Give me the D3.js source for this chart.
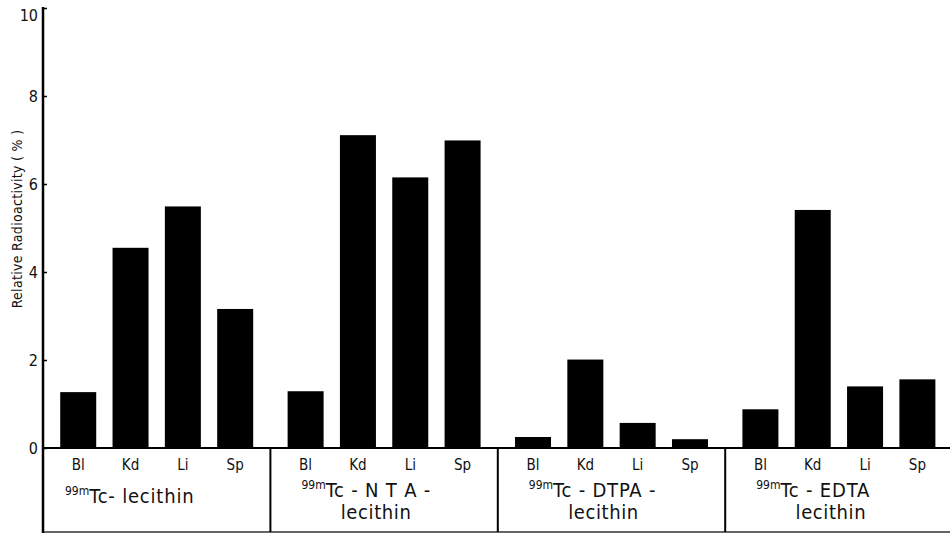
<!DOCTYPE html>
<html>
<head>
<meta charset="utf-8">
<script src="https://cdn.jsdelivr.net/npm/d3@7"></script>
<style>
  html, body { margin: 0; padding: 0; background: #fff; }
  svg { display: block; }
  text { font-family: "DejaVu Sans Condensed", "Liberation Sans Narrow", sans-serif; fill: #111; }
</style>
</head>
<body>
<svg id="chart" width="950" height="535"></svg>
<script>
// ---- data ----
const groups = ["lecithin", "NTA-lecithin", "DTPA-lecithin", "EDTA-lecithin"];
const organs = ["Bl", "Kd", "Li", "Sp"];
const valuesLecithin = [1.27, 4.55, 5.49, 3.16];
const valuesNTA      = [1.29, 7.11, 6.15, 6.99];
const valuesDTPA     = [0.25, 2.01, 0.57, 0.20];
const valuesEDTA     = [0.88, 5.41, 1.40, 1.56];
const seriesValues = [valuesLecithin, valuesNTA, valuesDTPA, valuesEDTA];
const groupLabelLines = [
  ["Tc- lecithin"],
  ["Tc - N T A -", "lecithin"],
  ["Tc - DTPA -", "lecithin"],
  ["Tc - EDTA", "lecithin"]
];
const isotope = "99m";
const yTicks = [0, 2, 4, 6, 8, 10];
const yTitle = "Relative  Radioactivity ( % )";

// ---- layout ----
const svg = d3.select("#chart");
const axisX = 43, baseY = 448, topY = 8, boxBottom = 532;

const y = d3.scaleLinear().domain([0, 10]).range([baseY, topY]);
const xGroup = d3.scaleBand().domain(groups).range([axisX, axisX + 4 * 227.4]).paddingInner(0).paddingOuter(0);
const xOrgan = d3.scaleBand().domain(organs).range([0, xGroup.bandwidth()]).paddingInner(0.312).paddingOuter(0.329);

// bars
const barData = [];
groups.forEach((g, gi) => organs.forEach((o, oi) => barData.push({ g, o, v: seriesValues[gi][oi] })));
svg.append("g").selectAll("rect").data(barData).join("rect")
  .attr("x", d => xGroup(d.g) + xOrgan(d.o))
  .attr("width", xOrgan.bandwidth())
  .attr("y", d => y(d.v))
  .attr("height", d => baseY - y(d.v))
  .attr("fill", "#000");

// baseline and box
svg.append("line").attr("x1", axisX).attr("x2", 950).attr("y1", baseY).attr("y2", baseY)
  .attr("stroke", "#000").attr("stroke-width", 2);
svg.append("line").attr("x1", axisX).attr("x2", 950).attr("y1", boxBottom).attr("y2", boxBottom)
  .attr("stroke", "#333").attr("stroke-width", 1.5);
svg.append("g").selectAll("line").data(groups.slice(1)).join("line")
  .attr("x1", d => xGroup(d)).attr("x2", d => xGroup(d))
  .attr("y1", baseY).attr("y2", boxBottom)
  .attr("stroke", "#000").attr("stroke-width", 2);

// y axis
const yAxis = d3.axisLeft(y).tickValues(yTicks).tickSizeInner(-4).tickSizeOuter(0).tickPadding(5)
  .tickFormat(d3.format("d"));
const gy = svg.append("g").attr("transform", `translate(${axisX},0)`).call(yAxis);
gy.select(".domain").remove();
gy.selectAll(".tick line").attr("stroke", "#000").attr("stroke-width", 1.5);
gy.selectAll(".tick text").attr("font-size", 16).attr("fill", "#111")
  .attr("font-family", "'DejaVu Sans Condensed', sans-serif");
gy.selectAll(".tick").filter(d => d === 10).select("text").attr("dy", "0.8em");
svg.append("line").attr("x1", axisX).attr("x2", axisX).attr("y1", 7).attr("y2", boxBottom + 1)
  .attr("stroke", "#000").attr("stroke-width", 2.5);

// y title
svg.append("text")
  .attr("transform", `translate(22,${(133 + 305) / 2}) rotate(-90)`)
  .attr("text-anchor", "middle")
  .attr("font-size", 14)
  .attr("letter-spacing", 0.3)
  .text(yTitle);

// organ labels
svg.append("g").selectAll("text").data(barData).join("text")
  .attr("x", d => xGroup(d.g) + xOrgan(d.o) + xOrgan.bandwidth() / 2)
  .attr("y", 470)
  .attr("text-anchor", "middle")
  .attr("font-size", 15)
  .text(d => d.o);

// group labels
groups.forEach((g, gi) => {
  const lines = groupLabelLines[gi];
  const gx = xGroup(g);
  const single = lines.length === 1;
  const line1X = gx + (single ? 22 : 31);
  const line1Y = single ? 503 : 497;
  const t = svg.append("text").attr("x", line1X).attr("y", line1Y).attr("font-size", 20)
    .attr("letter-spacing", 0.8);
  t.append("tspan").attr("font-size", 12).attr("letter-spacing", 0).attr("dy", -8).text(isotope);
  t.append("tspan").attr("dy", 8).text(lines[0]);
  if (lines.length > 1) {
    svg.append("text")
      .attr("x", gx + xGroup.bandwidth() / 2 - 8)
      .attr("y", 519)
      .attr("text-anchor", "middle")
      .attr("font-size", 20)
      .attr("letter-spacing", 0.6)
      .text(lines[1]);
  }
});
</script>
</body>
</html>
